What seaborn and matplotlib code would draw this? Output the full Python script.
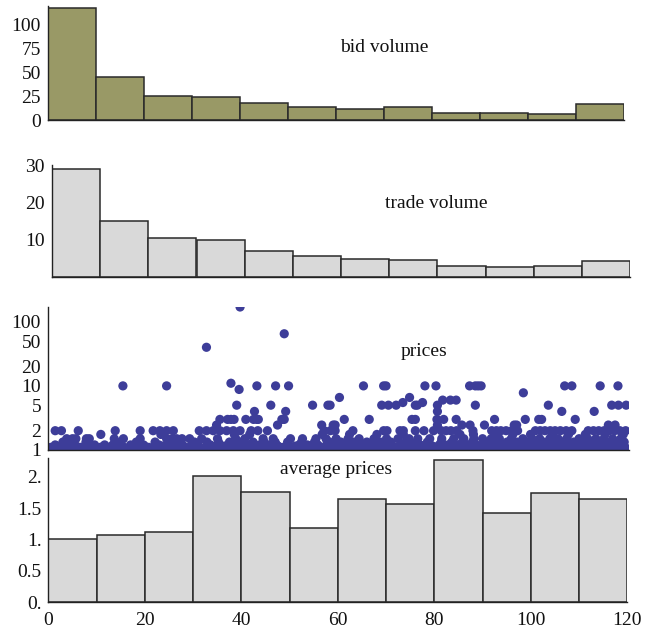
import numpy as np
import pandas as pd
import matplotlib
matplotlib.use("Agg")
import matplotlib.pyplot as plt
import matplotlib.ticker as mticker
import seaborn as sns

# ---------------- data ----------------
bin_edges = [0, 10, 20, 30, 40, 50, 60, 70, 80, 90, 100, 110, 120]
bid_volume = [118, 45, 25.5, 24.5, 18, 14, 12, 14, 7.2, 8, 6.5, 17]
trade_volume = [28.9, 14.9, 10.3, 9.8, 6.8, 5.5, 4.7, 4.4, 2.8, 2.5, 2.8, 4.2]
avg_price = [1.01, 1.07, 1.12, 2.01, 1.76, 1.18, 1.64, 1.57, 2.27, 1.42, 1.74, 1.65]

# price scatter: x positions of trades at each price level
x_at_100 = [0.4, 1.3, 2.4, 3.8, 5.1, 6.2, 7.5, 8.9, 10.1, 11.4, 12.6, 13.9, 15.2, 16.4,
            17.7, 18.9, 20.2, 21.5, 22.7, 24.0, 25.3, 26.5, 27.8, 29.1, 30.3, 31.6,
            32.9, 34.1, 35.4, 36.7, 37.9, 39.2, 40.5, 41.7, 43.0, 44.3, 45.5, 46.8,
            48.1, 49.3, 50.6, 51.9, 53.1, 54.4, 55.7, 56.9, 58.2, 59.5, 60.7, 62.0,
            63.3, 64.5, 65.8, 67.1, 68.3, 69.6, 70.9, 72.1, 73.4, 74.7, 75.9, 77.2,
            78.5, 79.7, 81.0, 82.3, 83.5, 84.8, 86.1, 87.3, 88.6, 89.9, 91.1, 92.4,
            93.7, 94.9, 96.2, 97.5, 98.7, 100.0, 101.3, 102.5, 103.8, 105.1, 106.3,
            107.6, 108.9, 110.1, 111.4, 112.7, 113.9, 115.2, 116.5, 117.7, 119.0, 120.3]
x_at_106 = [0.9, 2.0, 3.2, 4.5, 5.7, 7.0, 8.2, 9.5, 10.8, 12.0, 13.3, 14.6, 15.8, 17.1,
            18.3, 19.6, 20.9, 22.1, 23.4, 24.6, 25.9, 27.2, 28.4, 29.7, 31.0, 32.2,
            33.5, 34.8, 36.0, 37.3, 38.6, 39.8, 41.1, 42.4, 43.6, 44.9, 46.2, 47.4,
            48.7, 50.0, 51.2, 52.5, 53.8, 55.0, 56.3, 57.6, 58.8, 60.1, 61.4, 62.6,
            63.9, 65.2, 66.4, 67.7, 69.0, 70.2, 71.5, 72.8, 74.0, 75.3, 76.6, 77.8,
            79.1, 80.4, 81.6, 82.9, 84.2, 85.4, 86.7, 88.0, 89.2, 90.5, 91.8, 93.0,
            94.3, 95.6, 96.8, 98.1, 99.4, 100.6, 101.9, 103.2, 104.4, 105.7, 107.0,
            108.2, 109.5, 110.8, 112.0, 113.3, 114.6, 115.8, 117.1, 118.4, 119.6]
x_at_110 = [0.6, 2.6, 4.4, 6.8, 8.7, 10.9, 12.8, 14.6, 16.9, 18.7, 21.0, 22.8, 24.7,
            26.9, 28.8, 30.9, 32.7, 34.8, 36.6, 38.9, 40.8, 42.6, 44.9, 46.7, 48.9,
            50.8, 52.6, 54.9, 56.8, 58.7, 60.9, 62.7, 64.8, 66.6, 68.9, 70.7, 72.8,
            74.6, 76.9, 78.7, 80.8, 82.6, 84.9, 86.7, 88.8, 90.6, 92.9, 94.7, 96.8,
            98.6, 100.9, 102.7, 104.8, 106.6, 108.9, 110.7, 112.8, 114.6, 116.9,
            118.8, 120.2]
x_at_115 = [1.8, 5.9, 7.7, 11.6, 15.5, 20.1, 23.9, 27.6, 29.9, 33.6, 37.1, 39.3, 43.3,
            47.9, 51.5, 55.6, 59.4, 61.8, 65.5, 67.4, 71.1, 73.2, 77.8, 80.1, 83.8,
            87.9, 91.9, 95.2, 97.4, 99.9, 103.7, 105.9, 109.6, 111.8, 113.6, 117.2, 119.2]
x_at_120 = [1.5, 3.8, 5.2, 9.7, 11.8, 13.5, 17.2, 19.9, 23.1, 25.8, 28.0, 31.2, 33.8,
            35.9, 37.4, 39.7, 41.5, 44.0, 45.8, 47.6, 50.1, 52.3, 54.0, 56.2, 58.0,
            60.3, 62.1, 64.2, 66.0, 68.1, 70.0, 71.6, 73.9, 75.7, 77.5, 79.6, 81.5,
            83.3, 85.6, 87.5, 89.2, 91.4, 93.3, 95.0, 96.9, 99.1, 101.0, 102.9, 104.6,
            106.5, 108.3, 110.4, 112.2, 114.0, 115.9, 117.7, 119.6]
x_at_133 = [3.1, 7.9, 14.2, 18.4, 22.3, 27.1, 30.5, 33.1, 35.5, 37.8, 40.2, 42.7, 45.0,
            47.3, 49.9, 52.8, 55.5, 58.6, 61.0, 63.7, 66.4, 69.2, 71.4, 74.5, 76.8,
            79.0, 81.9, 84.1, 86.3, 88.4, 90.8, 92.0, 93.9, 95.6, 97.7, 99.8, 101.7,
            103.2, 105.4, 107.1, 109.5, 111.3, 113.2, 114.8, 116.4, 118.3, 120.0]
x_at_150 = [3.9, 5.1, 5.8, 8.0, 8.6, 13.8, 15.7, 19.2, 24.7, 25.8, 26.8, 27.9, 29.5,
            32.0, 35.3, 39.1, 41.0, 44.8, 46.9, 50.5, 53.0, 55.8, 57.9, 60.0, 62.5,
            64.8, 67.9, 70.5, 72.9, 75.2, 77.0, 79.5, 82.0, 84.5, 86.6, 88.7, 90.5,
            92.3, 94.0, 96.5, 98.9, 100.8, 102.4, 104.5, 106.2, 108.0, 110.6, 112.4,
            114.1, 115.8, 117.6, 119.3]
x_at_175 = [11.0, 23.5, 38.8, 42.0, 57.1, 62.8, 68.5, 74.0, 85.8, 88.6, 93.5, 96.8,
            100.5, 105.0, 108.4, 111.9, 116.0, 119.8]
x_at_200 = [1.5, 2.8, 6.3, 14.0, 19.2, 21.9, 23.3, 24.7, 26.1, 31.5, 33.0, 34.4, 35.8,
            37.2, 38.6, 40.0, 42.3, 43.7, 45.7, 57.5, 58.8, 59.8, 63.5, 69.9, 70.6,
            73.3, 74.0, 76.5, 78.3, 80.3, 81.9, 82.9, 83.9, 85.1, 88.5, 92.4, 93.4,
            94.3, 95.4, 96.6, 97.8, 101.5, 102.5, 103.5, 104.6, 105.6, 106.7, 107.9,
            109.1, 112.5, 113.6, 114.7, 115.8, 116.9, 118.0, 119.1, 120.3]
x_at_245 = [35.1, 47.8, 57.0, 59.4, 59.8, 81.1, 86.2, 87.9, 90.9, 97.1, 97.6, 116.7, 118.1]
x_at_300 = [35.8, 37.4, 38.1, 38.75, 41.2, 42.8, 43.5, 43.8, 48.7, 49.2, 61.7, 66.9,
            75.8, 76.5, 81.0, 82.4, 85.0, 93.0, 99.4, 102.2, 102.8, 109.8]
x_at_400 = [43.0, 49.5, 81.1, 107.0, 113.75]
x_at_500 = [39.3, 46.4, 55.1, 58.3, 58.75, 69.5, 70.9, 72.5, 76.5, 76.9, 81.1, 89.0,
            104.2, 117.4, 118.8, 120.4]
x_at_1000 = [15.6, 24.7, 43.5, 47.4, 50.1, 65.7, 69.9, 70.4, 78.5, 80.8, 87.8, 89.0,
             89.6, 90.2, 107.6, 109.1, 115.0, 118.7]
# isolated trades at other prices
other_x = [73.9, 78.0, 82.2, 83.8, 85.0, 60.7, 75.3, 38.1, 39.8, 99.0, 33.0, 49.2, 40.0]
other_y = [5.5, 5.5, 6.0, 6.0, 6.0, 6.6, 6.6, 11.0, 8.8, 7.8, 40.0, 65.0, 170.0]

level_lists = [(1.0, x_at_100), (1.06, x_at_106), (1.1, x_at_110), (1.15, x_at_115),
               (1.2, x_at_120), (1.33, x_at_133), (1.5, x_at_150), (1.75, x_at_175),
               (2.0, x_at_200), (2.45, x_at_245), (3.0, x_at_300), (4.0, x_at_400),
               (5.0, x_at_500), (10.0, x_at_1000)]
xs, ys = [], []
for p, lst in level_lists:
    xs += lst
    ys += [p] * len(lst)
xs += other_x
ys += other_y
prices = pd.DataFrame({"t": xs, "price": ys})

centers = [(a + b) / 2 for a, b in zip(bin_edges[:-1], bin_edges[1:])]
bars = pd.DataFrame({"t": centers, "bid": bid_volume, "trade": trade_volume,
                     "avg": avg_price})

# ---------------- style ----------------
sns.set_theme(style="white")
plt.rcParams["font.family"] = ["Liberation Serif", "DejaVu Serif"]
plt.rcParams["axes.unicode_minus"] = False

W, H = 664, 629
fig = plt.figure(figsize=(W / 100, H / 100), dpi=100)


def add_ax(left, right, top, bottom):
    return fig.add_axes([left / W, 1 - bottom / H, (right - left) / W, (bottom - top) / H])


axis_col = "#222222"


def style(ax):
    for s in ["top", "right"]:
        ax.spines[s].set_visible(False)
    for s in ["left", "bottom"]:
        ax.spines[s].set_color(axis_col)
        ax.spines[s].set_linewidth(1.0)
    ax.tick_params(direction="in", length=4, width=0.8, color=axis_col,
                   labelsize=14, labelcolor="#111111", pad=5)
    ax.set_xlabel("")
    ax.set_ylabel("")


olive = "#999966"
grey = "#d9d9d9"
edge = "#2a2a2a"

# panel 1: bid volume
ax1 = add_ax(48, 624, 5.7, 120.3)
sns.histplot(data=bars, x="t", weights="bid", bins=bin_edges, ax=ax1,
             color=olive, edgecolor=edge, linewidth=1.1, alpha=1)
ax1.set_xlim(0, 120)
ax1.set_ylim(0, 120)
ax1.set_yticks([0, 25, 50, 75, 100])
ax1.set_xticks([])
style(ax1)

# panel 2: trade volume
ax2 = add_ax(52, 630, 165, 276.5)
sns.histplot(data=bars, x="t", weights="trade", bins=bin_edges, ax=ax2,
             color=grey, edgecolor=edge, linewidth=1.1, alpha=1)
ax2.set_xlim(0, 120)
ax2.set_ylim(0, 30)
ax2.set_yticks([10, 20, 30])
ax2.set_xticks([])
style(ax2)

# panel 3: prices
ax3 = add_ax(48, 629, 307, 450)
sns.scatterplot(data=prices, x="t", y="price", ax=ax3, color="#3d3d99",
                s=44, edgecolor="none", linewidth=0)
ax3.set_yscale("log")
ax3.set_xlim(0, 121)
ax3.set_ylim(1, 170)
ax3.set_yticks([1, 2, 5, 10, 20, 50, 100])
ax3.yaxis.set_major_formatter(mticker.FixedFormatter(["1", "2", "5", "10", "20", "50", "100"]))
ax3.yaxis.set_minor_locator(mticker.LogLocator(base=10, subs=np.arange(2, 10)))
ax3.yaxis.set_minor_formatter(mticker.NullFormatter())
ax3.set_xticks([])
style(ax3)
ax3.tick_params(which="minor", direction="in", length=2, width=0.6, color=axis_col)

# panel 4: average prices
ax4 = add_ax(48.3, 627.3, 458, 602.3)
sns.histplot(data=bars, x="t", weights="avg", bins=bin_edges, ax=ax4,
             color=grey, edgecolor=edge, linewidth=1.1, alpha=1)
ax4.set_xlim(0, 120)
ax4.set_ylim(0, 2.3)
ax4.set_yticks([0, 0.5, 1, 1.5, 2])
ax4.set_yticklabels(["0.", "0.5", "1.", "1.5", "2."])
ax4.set_xticks([0, 20, 40, 60, 80, 100, 120])
ax4.set_xticklabels(["0", "20", "40", "60", "80", "100", "120"])
style(ax4)
ax4.tick_params(axis="x", pad=7)

# panel labels
lab_kw = dict(ha="center", va="center", fontsize=14, color="#111111")
fig.text(384 / W, 1 - 47 / H, "bid volume", **lab_kw)
fig.text(436 / W, 1 - 204 / H, "trade volume", **lab_kw)
fig.text(424 / W, 1 - 351 / H, "prices", **lab_kw)
fig.text(336 / W, 1 - 470 / H, "average prices", **lab_kw)

fig.savefig("out.png", dpi=100)
